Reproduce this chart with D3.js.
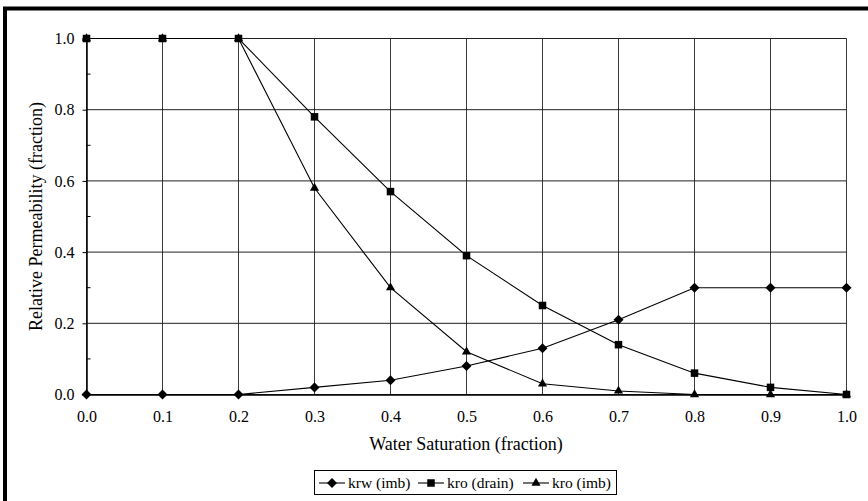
<!DOCTYPE html>
<html>
<head>
<meta charset="utf-8">
<script src="https://cdn.jsdelivr.net/npm/d3@7"></script>
<style>
  html, body { margin: 0; padding: 0; background: #fff; }
  svg { display: block; }
  svg text { font-family: "Liberation Serif", "Times New Roman", serif; fill: #000; }
</style>
</head>
<body>
<svg id="chart" width="868" height="501"></svg>
<script>
// Water saturation steps
const saturation = [0.0, 0.1, 0.2, 0.3, 0.4, 0.5, 0.6, 0.7, 0.8, 0.9, 1.0];
// Relative permeability curves
const krwImb   = [0, 0, 0, 0.02, 0.04, 0.08, 0.13, 0.21, 0.30, 0.30, 0.30];
const kroDrain = [1, 1, 1, 0.78, 0.57, 0.39, 0.25, 0.14, 0.06, 0.02, 0];
const kroImb   = [1, 1, 1, 0.58, 0.30, 0.12, 0.03, 0.01, 0, 0, 0];
const xTicks = [0, 0.1, 0.2, 0.3, 0.4, 0.5, 0.6, 0.7, 0.8, 0.9, 1.0];
const yTicks = [0, 0.2, 0.4, 0.6, 0.8, 1.0];
const yMinor = [0.1, 0.3, 0.5, 0.7, 0.9];

const FONT = "Liberation Serif";

const seriesList = [
  { name: "krw (imb)",   values: krwImb,   symbol: d3.symbolDiamond2,  size: 64 },
  { name: "kro (drain)", values: kroDrain, symbol: d3.symbolSquare2,   size: 72 },
  { name: "kro (imb)",   values: kroImb,   symbol: d3.symbolTriangle2, size: 60 }
];

const svg = d3.select("#chart");

// Outer frame (thick border)
svg.append("rect")
  .attr("x", 5).attr("y", 8.5)
  .attr("width", 900).attr("height", 600)
  .attr("fill", "none").attr("stroke", "#000").attr("stroke-width", 4);

const x = d3.scaleLinear().domain([0, 1]).range([86.5, 846.5]);
const y = d3.scaleLinear().domain([0, 1]).range([394.5, 38.5]);

const g = svg.append("g");

// Grid lines
g.append("g").selectAll("line").data(xTicks).join("line")
  .attr("x1", d => x(d)).attr("x2", d => x(d))
  .attr("y1", y(0)).attr("y2", y(1))
  .attr("stroke", "#3a3a3a").attr("stroke-width", 1);
g.append("g").selectAll("line").data(yTicks).join("line")
  .attr("x1", x(0)).attr("x2", x(1))
  .attr("y1", d => y(d)).attr("y2", d => y(d))
  .attr("stroke", "#222").attr("stroke-width", 1);

// Y axis with outer major ticks
const yAxis = g.append("g").attr("transform", `translate(${x(0)},0)`)
  .call(d3.axisLeft(y).tickValues(yTicks).tickFormat(d3.format(".1f")).tickSize(4).tickPadding(8));
yAxis.attr("font-family", FONT).attr("font-size", 16);
yAxis.select(".domain").attr("stroke", "#000").attr("stroke-width", 1.5);
// inner minor ticks
g.append("g").selectAll("line").data(yMinor).join("line")
  .attr("x1", x(0)).attr("x2", x(0) + 4)
  .attr("y1", d => y(d)).attr("y2", d => y(d))
  .attr("stroke", "#000");

// X axis
const xAxis = g.append("g").attr("transform", `translate(0,${y(0)})`)
  .call(d3.axisBottom(x).tickValues(xTicks).tickFormat(d3.format(".1f")).tickSize(0).tickPadding(16));
xAxis.attr("font-family", FONT).attr("font-size", 16);
xAxis.select(".domain").attr("stroke", "#000").attr("stroke-width", 1.5);

// Series lines and markers
const line = d3.line().x((d, i) => x(saturation[i])).y(d => y(d));
seriesList.forEach(s => {
  g.append("path").datum(s.values)
    .attr("d", line).attr("fill", "none").attr("stroke", "#000").attr("stroke-width", 1.1);
});
// markers drawn after all lines (triangles first so squares sit on top)
[seriesList[2], seriesList[0], seriesList[1]].forEach(s => {
  g.append("g").selectAll("path").data(s.values).join("path")
    .attr("transform", (d, i) => `translate(${x(saturation[i])},${y(d)})`)
    .attr("d", d3.symbol().type(s.symbol).size(s.size))
    .attr("fill", "#000");
});

// Axis titles
svg.append("text")
  .attr("x", 466).attr("y", 450)
  .attr("text-anchor", "middle").attr("font-size", 18).attr("font-family", FONT)
  .text("Water Saturation (fraction)");
svg.append("text")
  .attr("transform", `translate(42,${(y(0) + y(1)) / 2}) rotate(-90)`)
  .attr("text-anchor", "middle").attr("font-size", 18).attr("font-family", FONT)
  .text("Relative Permeability (fraction)");

// Legend
const legend = svg.append("g");
legend.append("rect")
  .attr("x", 314.5).attr("y", 470.5).attr("width", 302).attr("height", 24)
  .attr("fill", "#fff").attr("stroke", "#000").attr("stroke-width", 1);
const legendX = [319, 418, 523];
seriesList.forEach((s, i) => {
  const lx = legendX[i];
  const ly = 483;
  legend.append("line")
    .attr("x1", lx).attr("x2", lx + 26).attr("y1", ly).attr("y2", ly)
    .attr("stroke", "#000").attr("stroke-width", 1.1);
  legend.append("path")
    .attr("transform", `translate(${lx + 13},${ly})`)
    .attr("d", d3.symbol().type(s.symbol).size(s.size))
    .attr("fill", "#000");
  legend.append("text")
    .attr("x", lx + 29).attr("y", ly + 5)
    .attr("font-size", 15.5).attr("font-family", FONT)
    .text(s.name);
});
</script>
</body>
</html>
